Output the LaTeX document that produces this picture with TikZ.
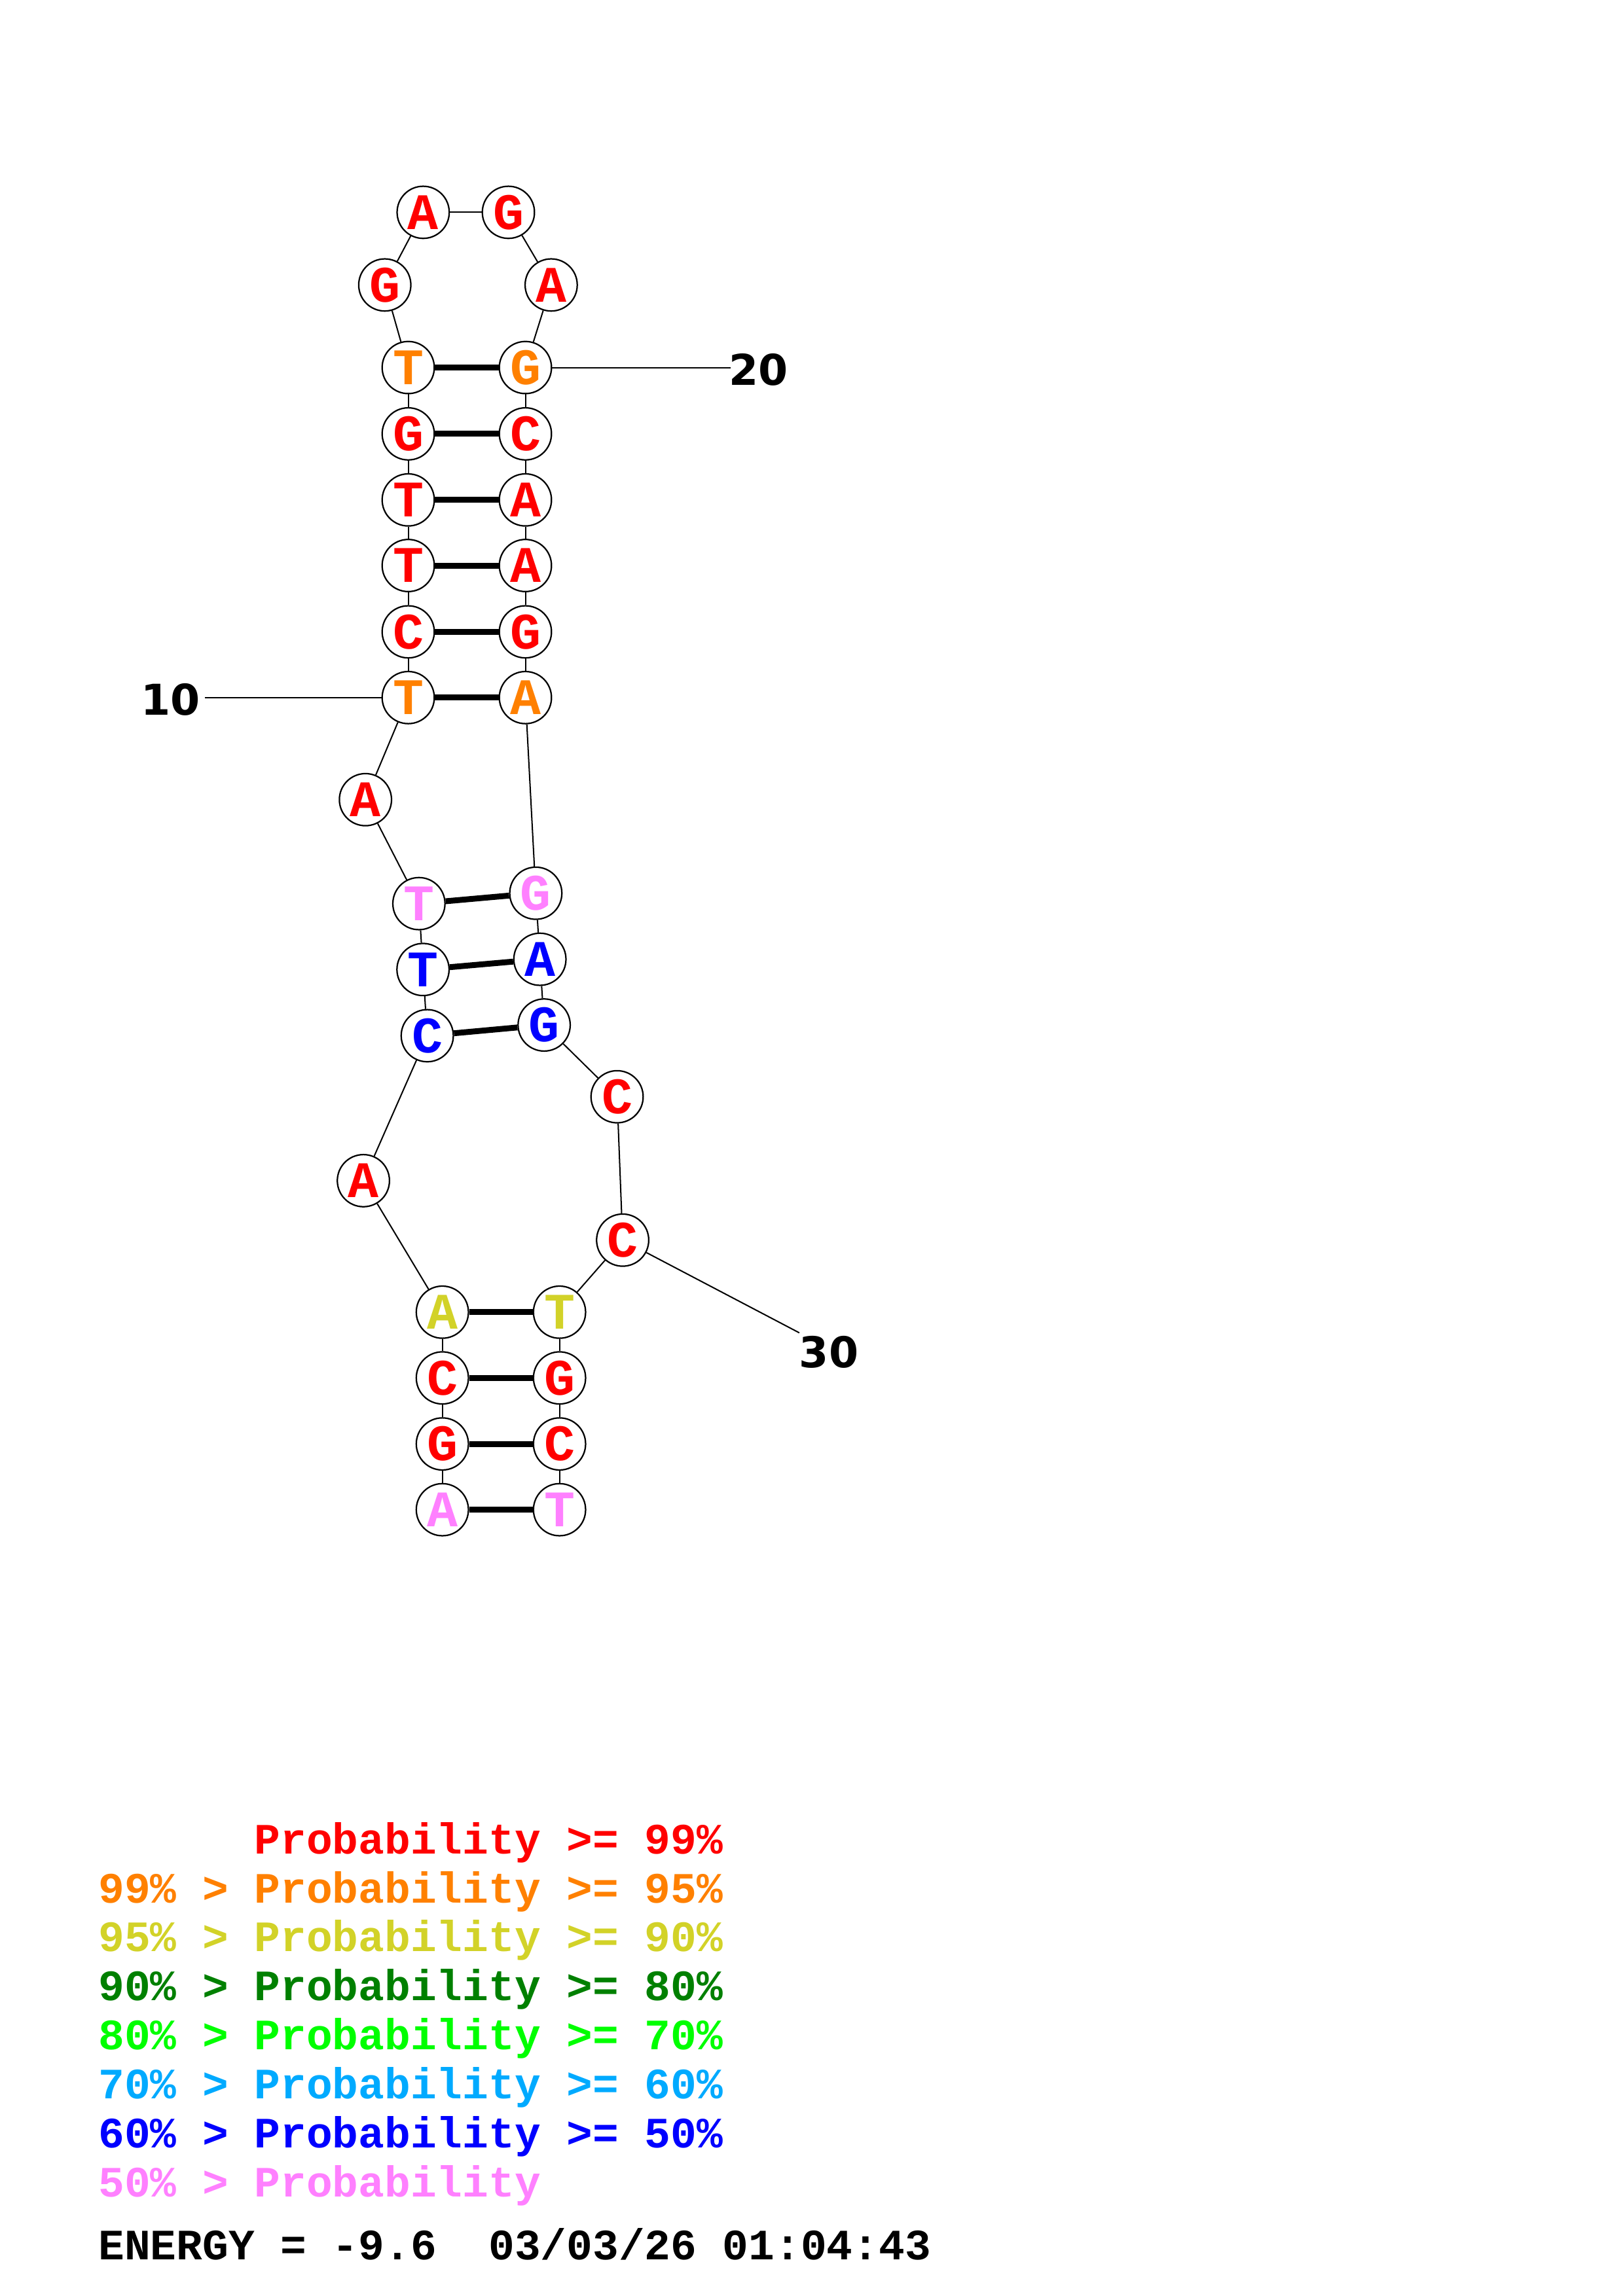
\documentclass[tikz,border=0pt]{standalone}
\usepackage{fontspec}
\usepackage{xcolor}
\newfontfamily\ntfont{Liberation Mono}
\newfontfamily\numfont{DejaVu Sans}
\definecolor{pr99}{RGB}{255,0,0}
\definecolor{pr95}{RGB}{255,128,0}
\definecolor{pr90}{RGB}{210,210,40}
\definecolor{pr80}{RGB}{0,128,0}
\definecolor{pr70}{RGB}{0,255,0}
\definecolor{pr60}{RGB}{0,170,255}
\definecolor{pr50}{RGB}{0,0,255}
\definecolor{prlow}{RGB}{255,128,255}

\begin{document}
\begin{tikzpicture}[x=1pt, y=-1pt,
  nt/.style={circle, draw, line width=1pt, fill=white, inner sep=0pt, minimum size=35.6pt, font=\ntfont\bfseries\fontsize{35}{35}\selectfont},
  bb/.style={line width=0.9pt},
  bp/.style={line width=4pt},
  lab/.style={inner sep=0pt, font=\numfont\bfseries\fontsize{29}{29}\selectfont},
  leg/.style={anchor=base west, inner sep=0pt, font=\ntfont\bfseries\fontsize{29.6}{30}\selectfont}
]
  \useasboundingbox (0,0) rectangle (1108,1568);
  % bases: index/x/y/letter/colour
  \foreach \i/\x/\y/\b/\c in {
    1/302.0/1031.0/A/prlow, 2/302.0/986.1/G/pr99, 3/302.0/941.0/C/pr99, 4/302.0/896.1/A/pr90,
    5/248.1/806.3/A/pr99, 6/291.7/707.3/C/pr50, 7/288.8/662.1/T/pr50, 8/286.0/617.1/T/prlow,
    9/249.5/546.1/A/pr99, 10/278.7/476.4/T/pr95, 11/278.7/431.5/C/pr99, 12/278.7/386.2/T/pr99,
    13/278.7/341.4/T/pr99, 14/278.7/296.3/G/pr99, 15/278.7/251.0/T/pr95, 16/262.7/194.6/G/pr99,
    17/288.9/145.0/A/pr99, 18/347.1/145.0/G/pr99, 19/376.3/194.6/A/pr99, 20/358.7/251.0/G/pr95,
    21/358.7/296.3/C/pr99, 22/358.7/341.4/A/pr99, 23/358.7/386.2/A/pr99, 24/358.7/431.5/G/pr99,
    25/358.7/476.4/A/pr95, 26/365.8/610.0/G/prlow, 27/368.6/655.1/A/pr50, 28/371.5/700.0/G/pr50,
    29/421.3/749.0/C/pr99, 30/425.1/846.9/C/pr99, 31/382.0/896.1/T/pr90, 32/382.0/941.0/G/pr99,
    33/382.0/986.1/C/pr99, 34/382.0/1031.0/T/prlow}
    {\node[nt, text=\c] (n\i) at (\x,\y) {\b};}
  % backbone
  \foreach \i in {1,...,33}{\pgfmathtruncatemacro\j{\i+1}\draw[bb] (n\i) -- (n\j);}
  % pairs
  \foreach \a/\b in {1/34,2/33,3/32,4/31,6/28,7/27,8/26,10/25,11/24,12/23,13/22,14/21,15/20}
    {\draw[bp] (n\a) -- (n\b);}
  % position marks
  \node[lab, anchor=base east] (l10) at (137,488.2) {10};
  \node[lab, anchor=base west] (l20) at (497.5,263.2) {20};
  \node[lab, anchor=base west] (l30) at (545.5,934.1) {30};
  \coordinate (t10) at (139.7,476.4);
  \coordinate (t20) at (498.6,251.0);
  \coordinate (t30) at (545.7,910.2);
  \draw[bb] (t10) -- (n10);
  \draw[bb] (n20) -- (t20);
  \draw[bb] (n30) -- (t30);
  % legend
  \node[leg, text=pr99] (g0) at (67,1265.9) {\phantom{99\% > }Probability >= 99\%};
  \node[leg, text=pr95] (g1) at (67,1299.4) {99\% > Probability >= 95\%};
  \node[leg, text=pr90] (g2) at (67,1332.8) {95\% > Probability >= 90\%};
  \node[leg, text=pr80] (g3) at (67,1366.3) {90\% > Probability >= 80\%};
  \node[leg, text=pr70] (g4) at (67,1399.7) {80\% > Probability >= 70\%};
  \node[leg, text=pr60] (g5) at (67,1433.2) {70\% > Probability >= 60\%};
  \node[leg, text=pr50] (g6) at (67,1466.6) {60\% > Probability >= 50\%};
  \node[leg, text=prlow] (g7) at (67,1500.1) {50\% > Probability};
  \node[leg] (en) at (67,1543.0) {ENERGY = -9.6\ \ 03/03/26 01:04:43};
\end{tikzpicture}
\end{document}
